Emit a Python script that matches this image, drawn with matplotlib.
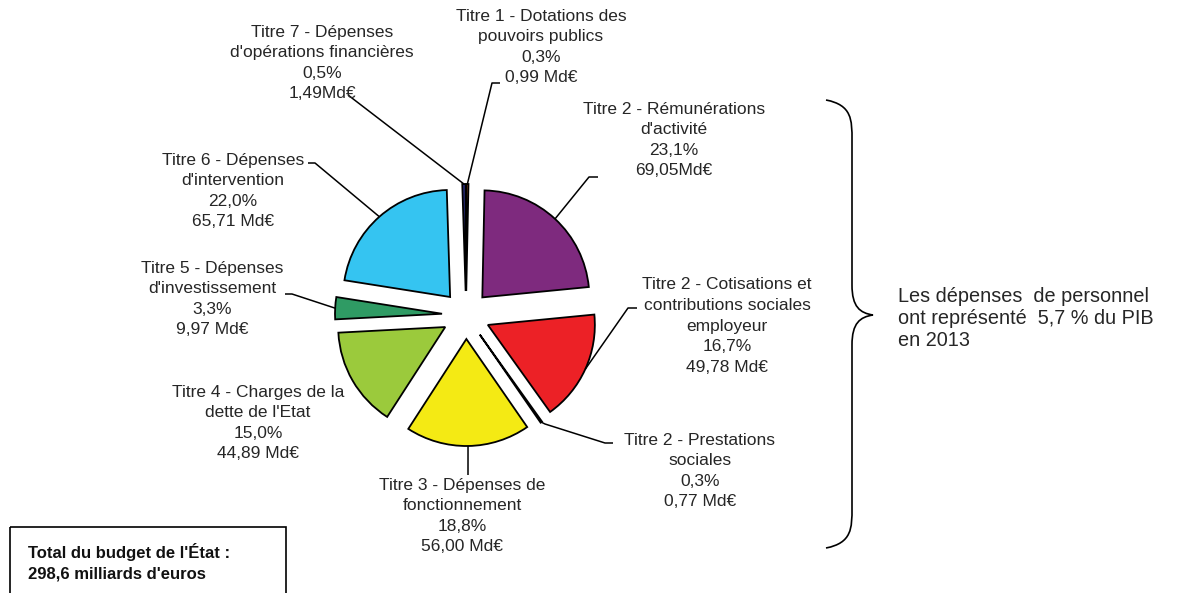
import numpy as np
import matplotlib
matplotlib.use("Agg")
import matplotlib.pyplot as plt
from matplotlib.path import Path
from matplotlib.patches import PathPatch, Rectangle

# ---- data ----
names = [
    "Titre 1 - Dotations des\npouvoirs publics",
    "Titre 2 - Rémunérations\nd'activité",
    "Titre 2 - Cotisations et\ncontributions sociales\nemployeur",
    "Titre 2 - Prestations\nsociales",
    "Titre 3 - Dépenses de\nfonctionnement",
    "Titre 4 - Charges de la\ndette de l'Etat",
    "Titre 5 - Dépenses\nd'investissement",
    "Titre 6 - Dépenses\nd'intervention",
    "Titre 7 - Dépenses\nd'opérations financières",
]
shares = [0.3, 23.1, 16.7, 0.3, 18.8, 15.0, 3.3, 22.0, 0.5]
amounts = [0.99, 69.05, 49.78, 0.77, 56.00, 44.89, 9.97, 65.71, 1.49]
amount_sep = [" ", "", " ", " ", " ", " ", " ", " ", ""]
total_text = "Total du budget de l'État :\n298,6 milliards d'euros"
note_text = "Les dépenses  de personnel\nont représenté  5,7 % du PIB\nen 2013"

colors = ["#C8641E", "#7E2A7E", "#EC2126", "#222222", "#F4EA14",
          "#9BCA3C", "#2F9B64", "#35C4F1", "#2C3087"]

W, H = 1185, 593
fig = plt.figure(figsize=(W / 100, H / 100), dpi=100)
ax = fig.add_axes([0, 0, 1, 1])

cx, cy, R, ex = 466, 315, 107, 24
wedges, _ = ax.pie(amounts, colors=colors, startangle=270, counterclock=True,
                   center=(cx, cy), radius=R, explode=[ex] * len(amounts),
                   frame=True,
                   wedgeprops=dict(edgecolor="black", linewidth=1.3))
ax.set_xlim(0, W)
ax.set_ylim(H, 0)
ax.set_aspect("auto")
ax.axis("off")

txt_color = "#262626"
font = ["Liberation Sans", "DejaVu Sans"]

# label block centres (layout)
label_pos = [(541, 47), (674, 140), (727, 326), (700, 471), (462, 516),
             (258, 423), (212, 299), (233, 191), (322, 63)]
# leader start points: polyline points before the wedge anchor (None = no leader)
leader = [
    [(500, 83), (492, 83)],
    [(598, 177), (589, 177)],
    [(637, 308), (628, 308)],
    [(613, 443), (605, 443), (545, 424)],
    [(468, 475)],
    None,
    [(285, 294), (292, 294)],
    [(308, 163), (315, 163)],
    [(348, 95)],
]

def fmt(v):
    return f"{v:.1f}".replace(".", ",")

def fmt2(v):
    return f"{v:.2f}".replace(".", ",")

for i, w in enumerate(wedges):
    txt = f"{names[i]}\n{fmt(shares[i])}%\n{fmt2(amounts[i])}{amount_sep[i]}Md€"
    x, y = label_pos[i]
    ax.text(x, y, txt, ha="center", va="center", multialignment="center",
            fontsize=12.5, color=txt_color, family=font, linespacing=1.46)
    if leader[i] is not None:
        th = np.deg2rad(0.5 * (w.theta1 + w.theta2))
        px = w.center[0] + w.r * np.cos(th)
        py = w.center[1] + w.r * np.sin(th)
        pts = leader[i] + [(px, py)]
        xs, ys = zip(*pts)
        ax.plot(xs, ys, color="black", lw=1.1, solid_capstyle="butt")

# curly brace
bx, top, bot, tipx, tipy = 826, 100, 548, 873, 315
sx = 852
verts = [(bx, top), (sx, top + 5), (sx, top + 20), (sx, top + 40),
         (sx, tipy - 30),
         (sx, tipy - 8), (sx + 8, tipy - 2), (tipx, tipy),
         (sx + 8, tipy + 2), (sx, tipy + 8), (sx, tipy + 30),
         (sx, bot - 40),
         (sx, bot - 20), (sx, bot - 5), (bx, bot)]
codes = [Path.MOVETO, Path.CURVE4, Path.CURVE4, Path.CURVE4,
         Path.LINETO,
         Path.CURVE4, Path.CURVE4, Path.CURVE4,
         Path.CURVE4, Path.CURVE4, Path.CURVE4,
         Path.LINETO,
         Path.CURVE4, Path.CURVE4, Path.CURVE4]
ax.add_patch(PathPatch(Path(verts, codes), fill=False, lw=1.2, edgecolor="black"))

ax.text(898, 318, note_text, ha="left", va="center", fontsize=14.3,
        color=txt_color, family=font, linespacing=1.2)

# total box
ax.add_patch(Rectangle((10, 527), 276, 80, fill=False, edgecolor="black", lw=1.2))
ax.text(28, 562, total_text, ha="left", va="center", fontsize=12, fontweight="bold",
        color="#111111", family=font, linespacing=1.42)

fig.savefig("out.png", dpi=100)
